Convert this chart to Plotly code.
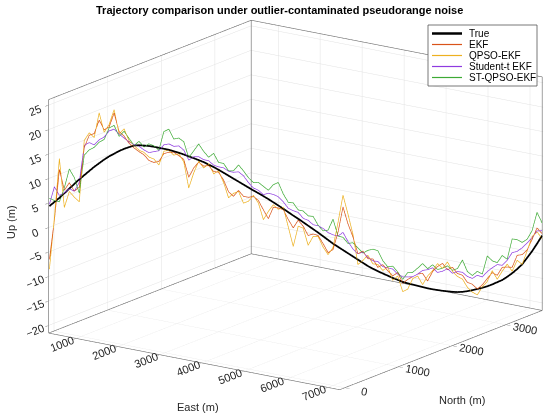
import plotly.graph_objects as go

# sample positions along the track (m)
east = [370, 440, 510, 580, 650, 720, 790, 860, 930, 1000,
        1070, 1140, 1210, 1280, 1350, 1420, 1490, 1560, 1630, 1700,
        1770, 1840, 1910, 1980, 2050, 2120, 2190, 2260, 2330, 2400,
        2470, 2540, 2610, 2680, 2750, 2820, 2890, 2960, 3030, 3100,
        3170, 3240, 3310, 3380, 3450, 3520, 3590, 3660, 3730, 3800,
        3870, 3940, 4010, 4080, 4150, 4220, 4290, 4360, 4430, 4500,
        4570, 4640, 4710, 4780, 4850, 4920, 4990, 5060, 5130, 5200,
        5270, 5340, 5410, 5480, 5550, 5620, 5690, 5760, 5830, 5900,
        5970, 6040, 6110, 6180, 6250, 6320, 6390, 6460, 6530, 6600,
        6670, 6740, 6810, 6880, 6950, 7020, 7090, 7160, 7230, 7300]
north = [-100, -62, -24, 14, 52, 90, 128, 166, 204, 242,
         280, 318, 356, 394, 432, 470, 508, 546, 584, 622,
         660, 698, 736, 774, 812, 850, 888, 926, 964, 1002,
         1040, 1078, 1116, 1154, 1192, 1230, 1268, 1306, 1344, 1382,
         1420, 1458, 1496, 1534, 1572, 1610, 1648, 1686, 1724, 1762,
         1800, 1838, 1876, 1914, 1952, 1990, 2028, 2066, 2104, 2142,
         2180, 2218, 2256, 2294, 2332, 2370, 2408, 2446, 2484, 2522,
         2560, 2598, 2636, 2674, 2712, 2750, 2788, 2826, 2864, 2902,
         2940, 2978, 3016, 3054, 3092, 3130, 3168, 3206, 3244, 3282,
         3320, 3358, 3396, 3434, 3472, 3510, 3548, 3586, 3624, 3662]

# Up (m)
up_true = [4.4, 5.2, 6.0, 6.9, 7.8, 8.7, 9.6, 10.4, 11.2, 12.0,
           12.7, 13.4, 14.0, 14.5, 15.0, 15.4, 15.7, 16.0, 16.0, 15.9,
           15.75, 15.55, 15.3, 15.05, 14.8, 14.45, 14.1, 13.7, 13.3, 12.85,
           12.4, 11.95, 11.4, 10.85, 10.25, 9.6, 8.95, 8.3, 7.65, 7.0,
           6.35, 5.7, 5.1, 4.45, 3.8, 3.1, 2.4, 1.7, 0.95, 0.2,
           -0.5, -1.25, -2.0, -2.75, -3.5, -4.3, -5.1, -5.9, -6.6, -7.3,
           -8.0, -8.7, -9.4, -10.1, -10.8, -11.4, -11.95, -12.45, -12.95, -13.45,
           -13.9, -14.35, -14.7, -15.0, -15.3, -15.6, -15.9, -16.15, -16.35, -16.55,
           -16.7, -16.85, -16.95, -16.95, -16.85, -16.7, -16.5, -16.3, -16.05, -15.7,
           -15.3, -14.9, -14.3, -13.6, -12.8, -11.9, -10.6, -9.3, -7.8, -6.2]
up_ekf = [-6.5, 1.5, 11.8, 7.5, 9.0, 7.2, 8.0, 16.0, 18.5, 18.8,
          21.5, 19.5, 20.0, 22.8, 19.0, 18.0, 16.5, 15.5, 14.7, 14.0,
          12.8, 12.35, 12.5, 14.05, 14.3, 14.25, 13.5, 12.7, 9.0, 10.85,
          12.0, 11.15, 11.2, 9.95, 9.75, 8.1, 5.65, 4.7, 5.85, 4.6,
          4.35, 4.5, 3.6, 1.65, -0.2, 2.1, 1.9, 1.5, -0.55, -2.3,
          -0.8, -2.05, -4.0, -3.75, -4.1, -5.8, -7.7, -7.1, -3.6, 1.5,
          -2.0, -4.7, -8.2, -7.7, -9.3, -9.4, -11.15, -10.65, -11.95, -13.05,
          -12.4, -14.65, -13.9, -13.4, -12.9, -12.8, -14.4, -12.55, -11.55, -10.95,
          -12.3, -11.85, -13.15, -13.55, -15.05, -15.5, -16.5, -15.7, -14.45, -13.3,
          -13.9, -12.3, -12.3, -12.4, -10.0, -9.9, -9.0, -6.9, -4.6, -5.8]
up_qpso = [-8.5, 2.0, 14.0, 4.0, 7.2, 6.0, 5.0, 17.5, 19.0, 18.0,
           23.0, 19.0, 20.5, 23.5, 18.5, 19.5, 17.0, 16.0, 15.0, 14.5,
           13.5, 13.05, 11.8, 14.55, 14.7, 13.65, 13.9, 12.2, 6.8, 9.85,
           12.2, 10.75, 11.6, 9.45, 10.05, 7.6, 4.45, 5.3, 5.65, 3.2,
           3.55, 4.7, 3.1, -0.35, 1.3, 2.6, 1.6, 2.0, -2.05, -6.1,
           -2.0, -2.45, -6.0, -4.25, -4.3, -6.5, -8.1, -6.7, -1.6, 3.9,
           0.0, -4.2, -10.4, -9.6, -8.6, -10.4, -10.55, -11.85, -11.15, -13.95,
           -13.1, -16.35, -15.9, -13.8, -13.3, -15.1, -13.4, -12.35, -10.95, -11.95,
           -10.7, -12.65, -13.75, -14.35, -16.05, -17.1, -17.7, -16.1, -15.05, -12.9,
           -14.7, -13.1, -11.7, -13.2, -11.0, -11.9, -9.2, -6.3, -5.4, -6.8]
up_student = [4.8, 8.3, 6.5, 7.0, 7.8, 7.2, 9.0, 16.5, 17.0, 16.5,
              17.5, 18.0, 19.2, 19.5, 18.5, 17.6, 16.8, 16.2, 15.8, 15.0,
              14.4, 14.55, 14.7, 15.85, 16.0, 15.45, 15.5, 14.6, 12.5, 13.15,
              13.1, 12.45, 12.2, 11.25, 10.85, 10.6, 9.85, 9.6, 9.65, 8.8,
              7.35, 6.2, 5.7, 4.75, 5.0, 4.7, 4.2, 3.1, 1.75, 1.2,
              0.8, -0.45, -0.9, -1.85, -2.1, -2.7, -3.6, -4.1, -4.4, -3.7,
              -5.6, -7.2, -8.2, -7.9, -9.0, -9.8, -9.95, -11.05, -11.35, -11.65,
              -12.7, -13.35, -13.4, -13.4, -12.9, -12.2, -12.1, -11.75, -12.75, -12.55,
              -12.1, -13.05, -12.75, -12.95, -13.85, -14.3, -13.7, -14.1, -13.05, -12.3,
              -11.7, -11.9, -10.9, -9.4, -9.2, -8.5, -7.6, -6.5, -5.2, -5.2]
up_stqpso = [6.0, 5.5, 5.2, 8.0, 11.8, 10.0, 6.8, 14.5, 15.5, 16.0,
             17.0, 17.5, 19.8, 20.3, 18.0, 19.0, 17.5, 16.0, 16.8, 15.6,
             16.2, 15.75, 14.8, 18.55, 19.0, 16.95, 17.1, 16.3, 13.0, 14.35,
             15.7, 14.15, 12.9, 13.65, 11.75, 11.5, 9.95, 9.9, 11.05, 9.8,
             8.35, 7.3, 7.3, 6.45, 5.6, 6.7, 7.1, 4.7, 2.95, 2.8,
             1.3, 1.05, 0.0, -0.15, -2.0, -3.2, -3.1, -0.9, -4.4, -4.7,
             -6.0, -5.9, -7.0, -8.1, -7.6, -7.4, -7.75, -9.85, -11.15, -11.05,
             -12.3, -13.85, -12.5, -12.5, -11.7, -10.8, -11.9, -11.15, -12.15, -11.95,
             -11.5, -12.45, -12.15, -10.45, -12.85, -13.7, -12.9, -13.5, -9.85, -10.9,
             -11.3, -9.9, -10.7, -6.6, -6.8, -7.4, -6.8, -5.1, -1.4, -3.6]

east_ticks = [1000, 2000, 3000, 4000, 5000, 6000, 7000]
north_ticks = [0, 1000, 2000, 3000]
up_ticks = [-20, -15, -10, -5, 0, 5, 10, 15, 20, 25]

xr = [365, 7300]
yr = [-110, 3665]
zr = [-21.5, 26.2]

series = [
    ('EKF', up_ekf, '#D95319'),
    ('QPSO-EKF', up_qpso, '#EDB120'),
    ('Student-t EKF', up_student, '#8E3BE0'),
    ('ST-QPSO-EKF', up_stqpso, '#3DAA35'),
]

W, H = 550.0, 418.0
FONT = 'Liberation Sans, Arial'


def px(xp):
    return xp / W


def py(yp):
    return 1 - yp / H


def pad(r, f=0.002):
    d = (r[1] - r[0]) * f
    return [r[0] - d, r[1] + d]


fig = go.Figure()

# back edges of the box (MATLAB style)
x0, x1 = xr
y0, y1 = yr
z0, z1 = zr
edges = [((x0, y0, z0), (x0, y0, z1)), ((x0, y1, z0), (x0, y1, z1)), ((x1, y1, z0), (x1, y1, z1)),
         ((x0, y0, z1), (x0, y1, z1)), ((x0, y1, z1), (x1, y1, z1)),
         ((x0, y0, z0), (x0, y1, z0)), ((x0, y1, z0), (x1, y1, z0)),
         ((x0, y0, z0), (x1, y0, z0)), ((x1, y0, z0), (x1, y1, z0))]
ex, ey, ez = [], [], []
for a, b in edges:
    ex += [a[0], b[0], None]
    ey += [a[1], b[1], None]
    ez += [a[2], b[2], None]
fig.add_trace(go.Scatter3d(x=ex, y=ey, z=ez, mode='lines', line=dict(color='#6a6a6a', width=1.2),
                           showlegend=False, hoverinfo='skip'))

for name, vals, col in series:
    fig.add_trace(go.Scatter3d(x=east, y=north, z=vals, mode='lines', name=name,
                               line=dict(color=col, width=1.4), showlegend=False))
fig.add_trace(go.Scatter3d(x=east, y=north, z=up_true, mode='lines', name='True',
                           line=dict(color='black', width=3.5), showlegend=False))

tickfont = dict(family=FONT, size=11.5, color='#262626')
axis_common = dict(showbackground=True, backgroundcolor='white', gridcolor='#e2e2e2', gridwidth=1,
                   showline=False, zeroline=False, ticks='outside', ticklen=4, tickcolor='#6a6a6a',
                   tickfont=tickfont, showspikes=False, autorange=False, title=dict(text=''))

# camera: view direction fixed, look-at point shifted so the box sits right of centre
view_dir = (0.5535, -0.785, 0.276)
shift = 0.0997
ctr = (-0.817 * shift, -0.576 * shift, 0.0)
eye = tuple(c + 2 * d for c, d in zip(ctr, view_dir))

fig.update_layout(
    width=550, height=418,
    margin=dict(l=0, r=0, t=0, b=0),
    paper_bgcolor='white',
    hovermode=False,
    scene=dict(
        domain=dict(x=[0.0, 1.0], y=[0.0192, 1.0]),
        xaxis=dict(range=pad(xr), tickvals=east_ticks, **axis_common),
        yaxis=dict(range=pad(yr), tickvals=north_ticks, **axis_common),
        zaxis=dict(range=pad(zr), tickvals=up_ticks, **axis_common),
        aspectmode='manual',
        aspectratio=dict(x=1.744, y=1.721, z=1.19),
        camera=dict(eye=dict(x=eye[0], y=eye[1], z=eye[2]),
                    center=dict(x=ctr[0], y=ctr[1], z=ctr[2]), up=dict(x=0, y=0, z=1),
                    projection=dict(type='orthographic')),
    ),
)

# title
fig.add_annotation(text='<b>Trajectory comparison under outlier-contaminated pseudorange noise</b>',
                   x=px(280), y=py(10), xref='paper', yref='paper', showarrow=False, yanchor='middle',
                   font=dict(family=FONT, size=11, color='black'))

# axis titles placed MATLAB-style
axis_titles = [('East (m)', 198, 407, 0), ('North (m)', 462, 400, 0), ('Up (m)', 11, 222, -90)]
for txt, ax_, ay_, ang in axis_titles:
    fig.add_annotation(text=txt, x=px(ax_), y=py(ay_), xref='paper', yref='paper', showarrow=False,
                       xanchor='center', yanchor='middle', textangle=ang,
                       font=dict(family=FONT, size=11, color='#262626'))

# legend box drawn by hand (MATLAB-like compact legend)
fig.add_shape(type='rect', xref='paper', yref='paper', x0=px(428), x1=px(537), y0=py(86), y1=py(25),
              line=dict(color='#555555', width=0.8), fillcolor='white', layer='above')
legend_items = [('True', 'black', 2.5)] + [(n, c, 1.2) for n, _, c in series]
for k, (name, col, w) in enumerate(legend_items):
    yy = py(33.5 + 11 * k)
    fig.add_shape(type='line', xref='paper', yref='paper', x0=px(432), x1=px(462), y0=yy, y1=yy,
                  line=dict(color=col, width=w), layer='above')
    fig.add_annotation(text=name, x=px(467), y=yy, xref='paper', yref='paper', xanchor='left',
                       yanchor='middle', showarrow=False,
                       font=dict(family=FONT, size=10, color='black'))

fig.write_html('out.html', config={'displayModeBar': False},
               post_script="document.body.style.margin='0';")
